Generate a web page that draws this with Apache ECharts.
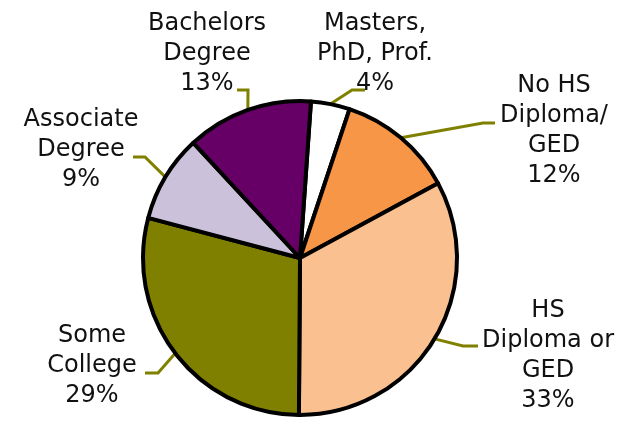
<!DOCTYPE html>
<html>
<head>
<meta charset="utf-8">
<script src="https://cdn.jsdelivr.net/npm/echarts@6/dist/echarts.min.js"></script>
<style>html,body{margin:0;padding:0;background:#fff}#c{width:621px;height:422px}</style>
</head>
<body>
<div id="c"></div>
<script>
// Data (clockwise from top)
var categories = ['Masters,\nPhD, Prof.', 'No HS\nDiploma/\nGED', 'HS\nDiploma or\nGED', 'Some\nCollege', 'Associate\nDegree', 'Bachelors\nDegree'];
var values = [4, 12, 33, 29, 9, 13];
var colors = ['#FFFFFF', '#F79646', '#FAC090', '#808000', '#CCC1DA', '#660066'];

// Label placement (style only)
var labelPos = [[375, 54], [554, 131], [548, 356], [92, 366], [81, 150], [207, 54]];
var lineBends = [
  [[352, 90], [365, 90]],
  [[483, 123], [495, 123]],
  [[463, 346], [478, 346]],
  [[158, 373], [145, 373]],
  [[145, 157], [133, 157]],
  [[248, 90], [237, 90]]
];

var chart = echarts.init(document.getElementById('c'), null, {renderer: 'canvas'});
chart.setOption({
  animation: false,
  backgroundColor: '#ffffff',
  series: [{
    type: 'pie',
    center: [300, 258],
    radius: 157,
    startAngle: 86,
    clockwise: true,
    data: categories.map(function (c, i) {
      return {name: c, value: values[i], itemStyle: {color: colors[i]}};
    }),
    itemStyle: {borderColor: '#000', borderWidth: 4},
    label: {
      show: true,
      formatter: '{b}\n{c}%',
      fontFamily: 'DejaVu Sans',
      fontSize: 24,
      lineHeight: 30,
      color: '#111',
      align: 'center',
      overflow: 'none'
    },
    labelLine: {show: true, lineStyle: {color: '#808000', width: 3}},
    labelLayout: function (params) {
      var i = params.dataIndex;
      var p0 = params.labelLinePoints ? params.labelLinePoints[0] : null;
      var pts = lineBends[i];
      var res = {x: labelPos[i][0], y: labelPos[i][1], align: 'center', verticalAlign: 'middle'};
      if (p0) res.labelLinePoints = [p0, pts[0], pts[1]];
      return res;
    }
  }]
});
</script>
</body>
</html>
